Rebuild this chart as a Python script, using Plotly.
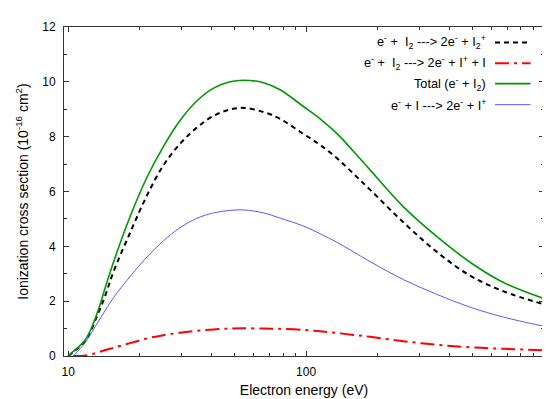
import plotly.graph_objects as go

# Electron energy grid (eV)
energy = [10.0, 10.5, 11.8, 13.2, 14.3, 15.5, 18.2, 21.4, 25.1, 29.5, 34.7, 40.8,
          47.9, 54.5, 66.2, 77.7, 97.4, 114.5, 134.5, 158, 186, 256, 354, 489, 675, 994]

# Cross sections (1e-16 cm^2)
i2_plus = [0.0, 0.15, 0.55, 1.45, 2.2, 3.08, 4.50, 5.85, 6.95, 7.74, 8.33, 8.76,
           8.99, 9.05, 8.90, 8.65, 8.10, 7.70, 7.22, 6.65, 6.06, 4.88, 3.80, 2.93, 2.36, 1.89]
i_plus_i = [None, 0.0, 0.02, 0.12, 0.22, 0.30, 0.47, 0.64, 0.76, 0.85, 0.92, 0.97,
            1.0, 1.01, 1.0, 0.99, 0.95, 0.90, 0.84, 0.77, 0.70, 0.54, 0.41, 0.32, 0.26, 0.21]
total_i2 = [0.0, 0.17, 0.59, 1.54, 2.49, 3.43, 5.09, 6.51, 7.64, 8.59, 9.30, 9.77,
            10.0, 10.06, 9.97, 9.71, 9.10, 8.65, 8.12, 7.47, 6.78, 5.45, 4.36, 3.42, 2.68, 2.10]
i_atom = [None, 0.0, 0.5, 1.18, 1.66, 2.13, 2.90, 3.61, 4.20, 4.68, 5.02, 5.22,
          5.31, 5.33, 5.22, 5.03, 4.74, 4.46, 4.15, 3.80, 3.44, 2.79, 2.25, 1.78, 1.42, 1.09]

names = [
    "e<sup>-</sup> +\u00a0 I<sub>2</sub> ---&gt; 2e<sup>-</sup> + I<sub>2</sub><sup>+</sup>",
    "e<sup>-</sup> +\u00a0 I<sub>2</sub> ---&gt; 2e<sup>-</sup> + I<sup>+</sup> + I",
    "Total (e<sup>-</sup> + I<sub>2</sub>)",
    "e<sup>-</sup> + I ---&gt; 2e<sup>-</sup> + I<sup>+</sup>",
]
series = [i2_plus, i_plus_i, total_i2, i_atom]
colors = ["#000000", "#ff0000", "#009900", "#5a5aff"]
widths = [2, 2, 1.6, 1]
dashes = ["5px,4px", "14px,5px,3px,5px", "solid", "solid"]

x_major = [10, 100]
x_minor = [20, 30, 40, 50, 60, 70, 80, 90, 200, 300, 400, 500, 600, 700, 800, 900]

fig = go.Figure()
for nm, ys, c, w, d in zip(names, series, colors, widths, dashes):
    fig.add_trace(go.Scatter(x=energy, y=ys, mode="lines", name=nm,
                             line=dict(color=c, width=w, dash=d, shape="spline", smoothing=1.0),
                             connectgaps=False, showlegend=False))

# gnuplot-style key: right-aligned text with sample to the right
row_y = [0.953, 0.890, 0.828, 0.764]
for nm, c, w, d, yy in zip(names, colors, widths, dashes, row_y):
    fig.add_annotation(xref="paper", yref="paper", x=0.884, y=yy, text=nm,
                       showarrow=False, xanchor="right", yanchor="middle",
                       font=dict(family="Liberation Sans, Arial", size=12.7, color="black"))
    fig.add_shape(type="line", xref="paper", yref="paper", x0=0.898, x1=0.972,
                  y0=yy, y1=yy, line=dict(color=c, width=w, dash=d))

axis_common = dict(showline=True, linecolor="#333333", linewidth=1, mirror="ticks",
                   ticks="inside", tickcolor="#333333", ticklen=5, showgrid=False,
                   zeroline=False, tickfont=dict(size=12, color="black"))

fig.update_layout(
    width=550, height=399,
    margin=dict(l=56, r=14, t=17, b=44),
    paper_bgcolor="white", plot_bgcolor="white",
    font=dict(family="Liberation Sans, Arial", size=12, color="black"),
    xaxis=dict(type="log", range=[0.982, 3.0], tickvals=x_major, ticktext=["10", "100"],
               minor=dict(tickvals=x_minor, ticklen=3, ticks="inside", tickcolor="#333333"),
               title=dict(text="Electron energy (eV)", standoff=6),
               ticklabelstandoff=5, **axis_common),
    yaxis=dict(range=[0, 12], dtick=2, tick0=0,
               minor=dict(dtick=1, ticklen=3, ticks="inside", tickcolor="#333333"),
               title=dict(text="Ionization cross section (10<sup>-16</sup> cm<sup>2</sup>)", standoff=10),
               ticklabelstandoff=5, **axis_common),
)

fig.write_html("out.html")
